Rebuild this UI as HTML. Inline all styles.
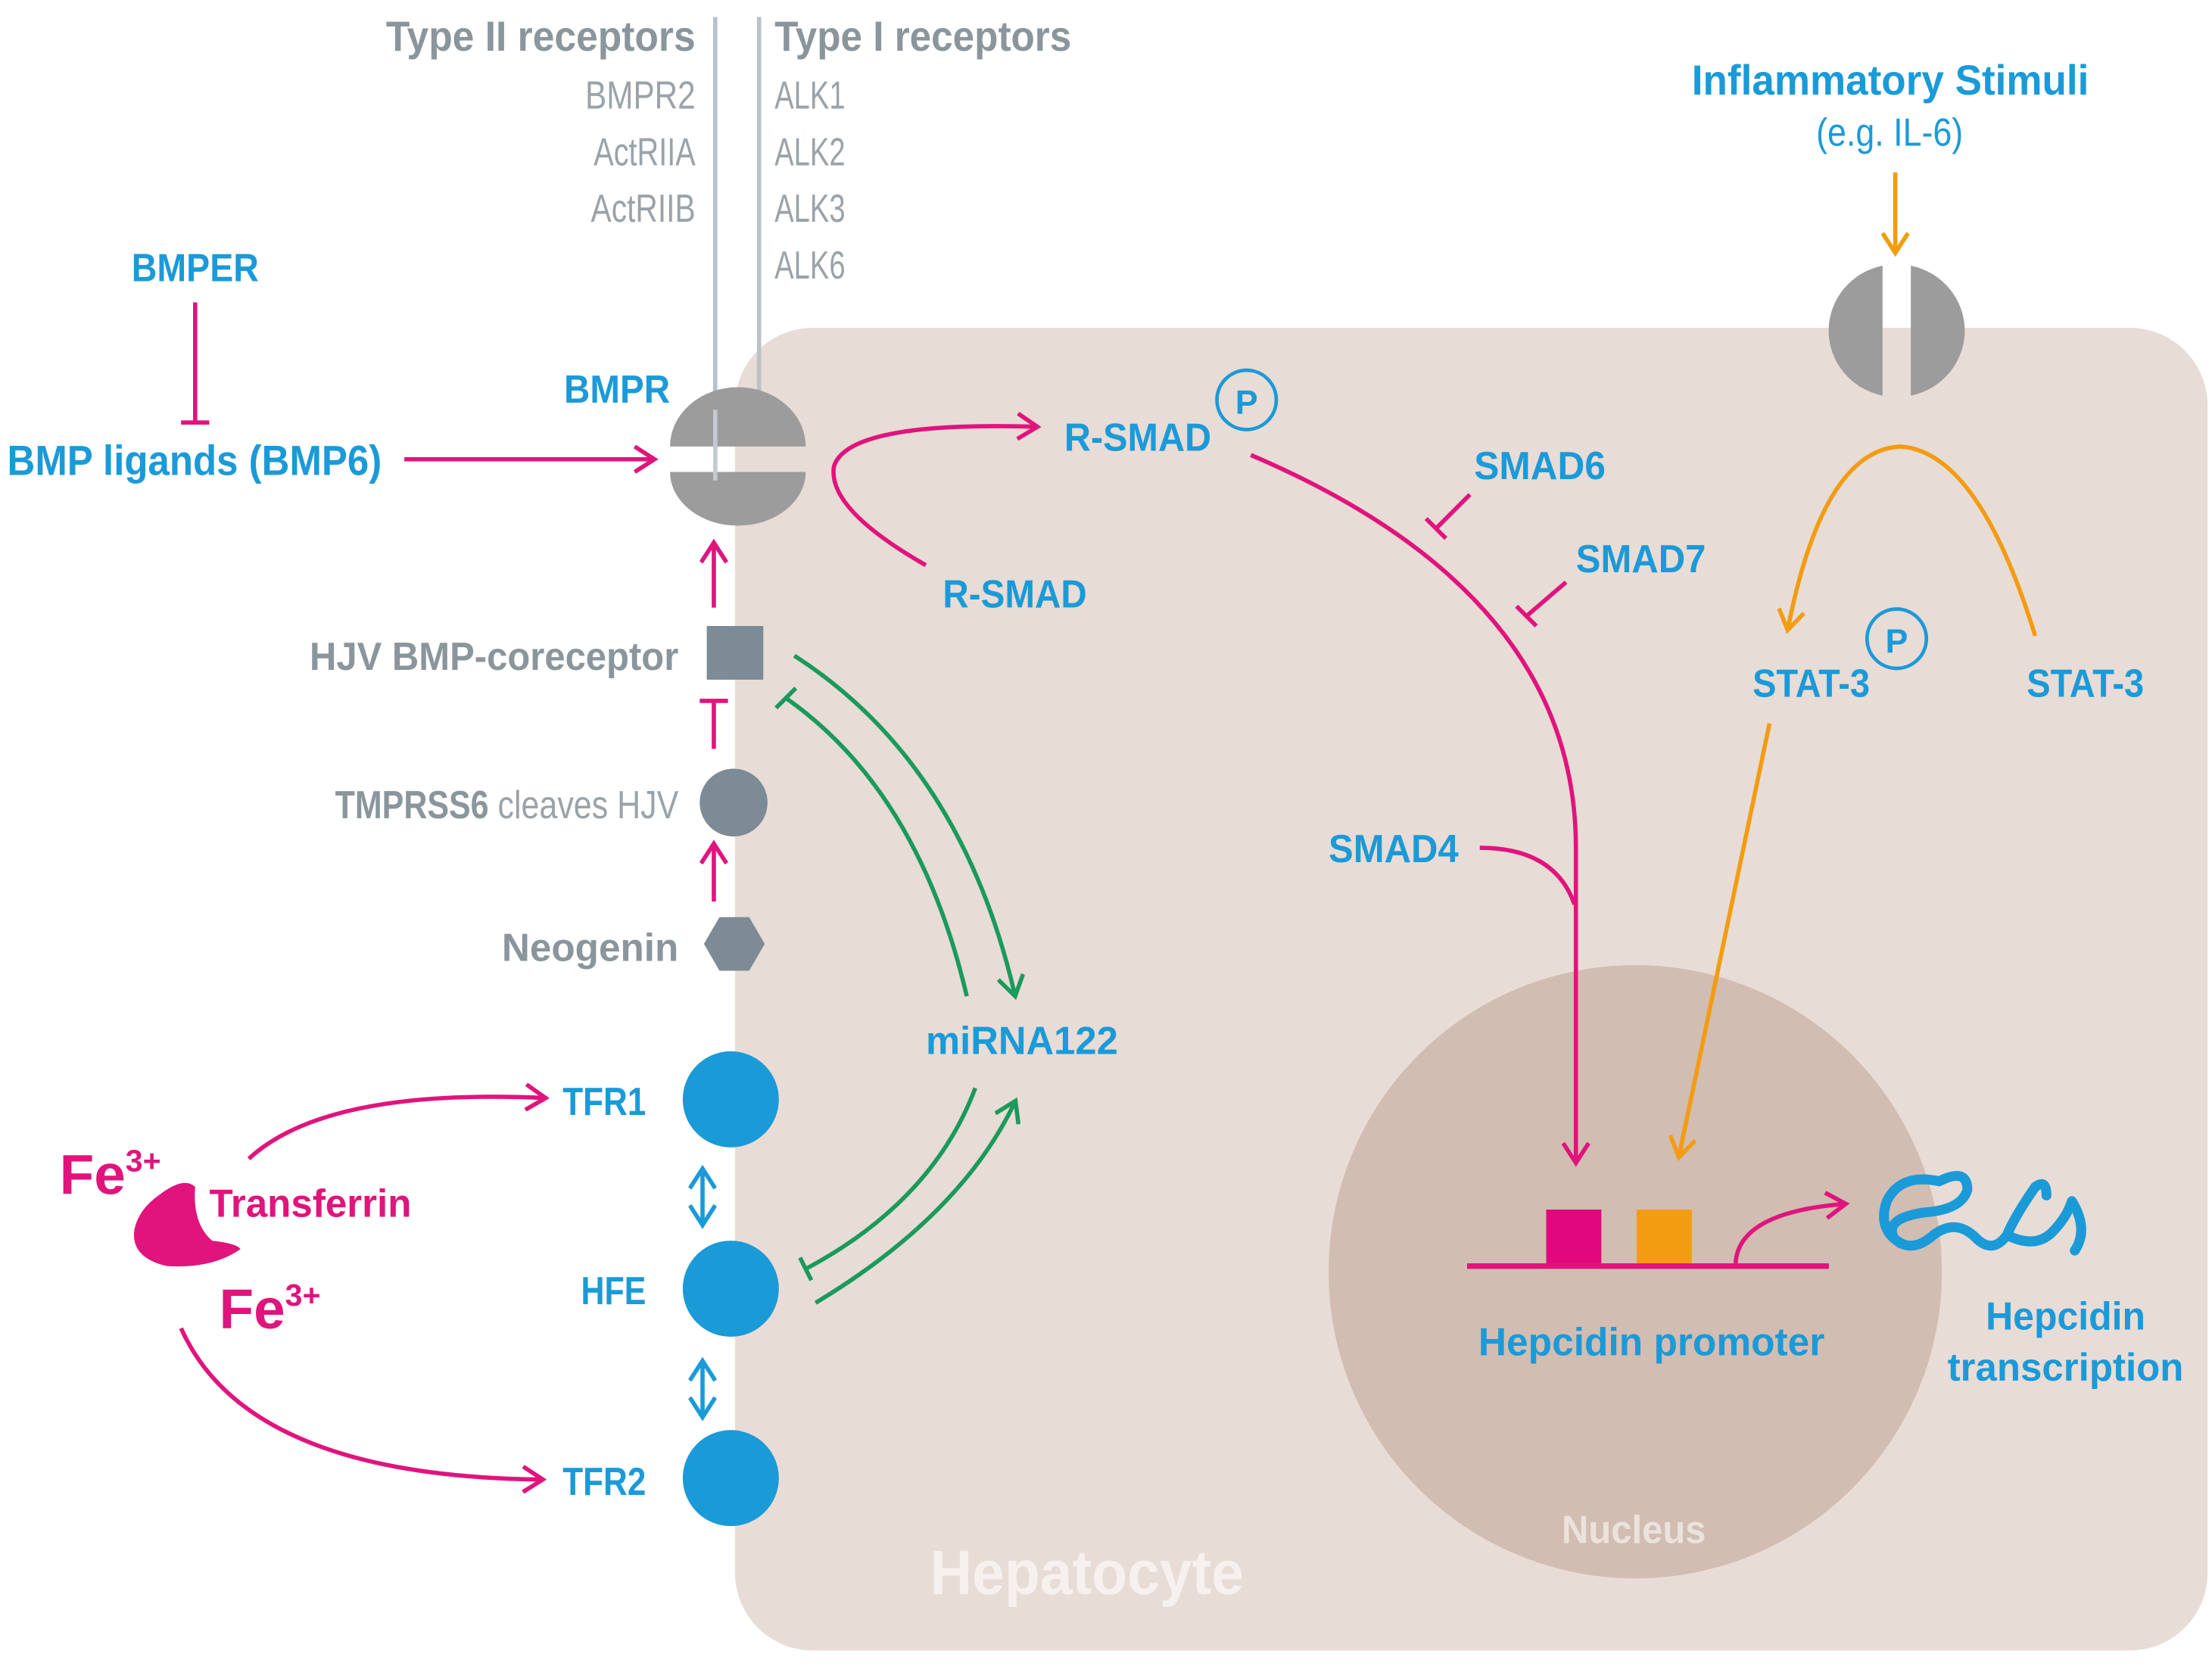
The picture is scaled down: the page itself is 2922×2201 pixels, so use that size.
<!DOCTYPE html>
<html><head><meta charset="utf-8"><style>
html,body{margin:0;padding:0;background:#fff}
svg{display:block}
text{font-family:"Liberation Sans Narrow","Liberation Sans",sans-serif}
.b{font-weight:bold}
.blue{fill:#1b9ad8}
.grey{fill:#8a959c}
</style></head><body>
<svg width="2922" height="2201" viewBox="0 0 1565 1179" xmlns="http://www.w3.org/2000/svg">
<defs>
<marker id="mpb" markerWidth="20" markerHeight="20" refX="16" refY="10" orient="auto" markerUnits="userSpaceOnUse" viewBox="0 0 20 20"><path d="M3,1 L17,10 L3,19" fill="none" stroke="#e0147c" stroke-width="3"/></marker>
<marker id="mg" markerWidth="20" markerHeight="20" refX="16" refY="10" orient="auto" markerUnits="userSpaceOnUse" viewBox="0 0 20 20"><path d="M3,1 L17,10 L3,19" fill="none" stroke="#1a9a5c" stroke-width="3"/></marker>
<marker id="mo" markerWidth="20" markerHeight="20" refX="16" refY="10" orient="auto" markerUnits="userSpaceOnUse" viewBox="0 0 20 20"><path d="M3,1 L17,10 L3,19" fill="none" stroke="#f39c12" stroke-width="3"/></marker>
<marker id="mbl" markerWidth="20" markerHeight="20" refX="16" refY="10" orient="auto-start-reverse" markerUnits="userSpaceOnUse" viewBox="0 0 20 20"><path d="M3,1 L17,10 L3,19" fill="none" stroke="#1b9ad8" stroke-width="3"/></marker>
</defs>
<rect x="520" y="232" width="1042" height="936" rx="55" fill="#e8dcd6"/>
<circle cx="1157" cy="900" r="217" fill="#d2bdb2"/>
<text x="1105" y="1092" textLength="102" lengthAdjust="spacingAndGlyphs" class="b" font-size="28" fill="#ece2dc">Nucleus</text>
<text x="658" y="1128" textLength="222" lengthAdjust="spacingAndGlyphs" class="b" font-size="44" fill="#f6f1ee">Hepatocyte</text>

<line x1="506" y1="12" x2="506" y2="340" stroke="#b9c2c8" stroke-width="3"/>
<line x1="537" y1="12" x2="537" y2="290" stroke="#b9c2c8" stroke-width="3"/>
<text x="273" y="36" textLength="219" lengthAdjust="spacingAndGlyphs" class="b grey" font-size="30">Type II receptors</text>
<text x="548" y="36" textLength="210" lengthAdjust="spacingAndGlyphs" class="b grey" font-size="30">Type I receptors</text>
<g font-size="28" fill="#9aa3a9">
<text x="414" y="77" textLength="78" lengthAdjust="spacingAndGlyphs">BMPR2</text>
<text x="420" y="117" textLength="72" lengthAdjust="spacingAndGlyphs">ActRIIA</text>
<text x="418" y="157" textLength="74" lengthAdjust="spacingAndGlyphs">ActRIIB</text>
<text x="548" y="77" textLength="50" lengthAdjust="spacingAndGlyphs">ALK1</text>
<text x="548" y="117" textLength="50" lengthAdjust="spacingAndGlyphs">ALK2</text>
<text x="548" y="157" textLength="50" lengthAdjust="spacingAndGlyphs">ALK3</text>
<text x="548" y="197" textLength="50" lengthAdjust="spacingAndGlyphs">ALK6</text>
</g>

<path d="M474,316 A48,42 0 0 1 570,316 Z" fill="#9c9c9c"/>
<path d="M474,334 L570,334 A48,38 0 0 1 474,334 Z" fill="#9c9c9c"/>
<line x1="506" y1="290" x2="506" y2="340" stroke="#c4cbd0" stroke-width="3"/>
<text x="399" y="285" textLength="75" lengthAdjust="spacingAndGlyphs" class="b blue" font-size="28">BMPR</text>

<text x="93" y="199" textLength="90" lengthAdjust="spacingAndGlyphs" class="b blue" font-size="28">BMPER</text>
<line x1="138" y1="214" x2="138" y2="299" stroke="#e0147c" stroke-width="3"/>
<line x1="128" y1="299" x2="148" y2="299" stroke="#e0147c" stroke-width="3"/>
<text x="5" y="336" textLength="265" lengthAdjust="spacingAndGlyphs" class="b blue" font-size="30">BMP ligands (BMP6)</text>
<line x1="286" y1="325" x2="462" y2="325" stroke="#e0147c" stroke-width="3" marker-end="url(#mpb)"/>

<line x1="505" y1="430" x2="505" y2="385" stroke="#e0147c" stroke-width="3" marker-end="url(#mpb)"/>
<rect x="500" y="443" width="40" height="38" fill="#7c8b95"/>
<text x="219" y="474" textLength="261" lengthAdjust="spacingAndGlyphs" class="b grey" font-size="28">HJV BMP-coreceptor</text>
<line x1="505" y1="530" x2="505" y2="496" stroke="#e0147c" stroke-width="3"/>
<line x1="495" y1="496" x2="515" y2="496" stroke="#e0147c" stroke-width="3"/>
<circle cx="519" cy="568" r="24" fill="#7c8b95"/>
<text x="237" y="579" textLength="243" lengthAdjust="spacingAndGlyphs" font-size="28" class="grey"><tspan class="b">TMPRSS6</tspan><tspan fill="#9aa3a9"> cleaves HJV</tspan></text>
<line x1="505" y1="638" x2="505" y2="598" stroke="#e0147c" stroke-width="3" marker-end="url(#mpb)"/>
<polygon points="498,668 509,649 530,649 541,668 530,687 509,687" fill="#7c8b95"/>
<text x="355" y="680" textLength="125" lengthAdjust="spacingAndGlyphs" class="b grey" font-size="28">Neogenin</text>

<circle cx="517" cy="778" r="34" fill="#1b9ad8"/>
<circle cx="517" cy="912" r="34" fill="#1b9ad8"/>
<circle cx="517" cy="1046" r="34" fill="#1b9ad8"/>
<text x="398" y="789" textLength="59" lengthAdjust="spacingAndGlyphs" class="b blue" font-size="28">TFR1</text>
<text x="411" y="923" textLength="46" lengthAdjust="spacingAndGlyphs" class="b blue" font-size="28">HFE</text>
<text x="398" y="1058" textLength="59" lengthAdjust="spacingAndGlyphs" class="b blue" font-size="28">TFR2</text>
<line x1="497" y1="828" x2="497" y2="866" stroke="#1b9ad8" stroke-width="3" marker-start="url(#mbl)" marker-end="url(#mbl)"/>
<line x1="497" y1="964" x2="497" y2="1002" stroke="#1b9ad8" stroke-width="3" marker-start="url(#mbl)" marker-end="url(#mbl)"/>

<text x="42" y="845" class="b" font-size="40" fill="#e0147c">Fe<tspan font-size="22" dy="-16">3+</tspan></text>
<text x="155" y="940" class="b" font-size="40" fill="#e0147c">Fe<tspan font-size="22" dy="-16">3+</tspan></text>
<text x="148" y="861" textLength="143" lengthAdjust="spacingAndGlyphs" class="b" font-size="28" fill="#e0147c">Transferrin</text>
<path d="M112,846 Q130,832 138,840 Q136,866 150,878 Q168,880 170,884 Q150,898 118,896 Q92,890 95,870 Q98,856 112,846 Z" fill="#e0147c"/>
<path d="M176,820 Q230,770 385,777" fill="none" stroke="#e0147c" stroke-width="3" marker-end="url(#mpb)"/>
<path d="M128,940 Q175,1045 383,1047" fill="none" stroke="#e0147c" stroke-width="3" marker-end="url(#mpb)"/>

<text x="655" y="746" textLength="136" lengthAdjust="spacingAndGlyphs" class="b blue" font-size="28">miRNA122</text>
<path d="M562,464 Q680,540 718,704" fill="none" stroke="#1a9a5c" stroke-width="3" marker-end="url(#mg)"/>
<path d="M684,705 Q650,560 556,494" fill="none" stroke="#1a9a5c" stroke-width="3"/>
<line x1="549" y1="501" x2="563" y2="487" stroke="#1a9a5c" stroke-width="3"/>
<path d="M577,922 Q680,860 718,780" fill="none" stroke="#1a9a5c" stroke-width="3" marker-end="url(#mg)"/>
<path d="M690,770 Q660,850 570,898" fill="none" stroke="#1a9a5c" stroke-width="3"/>
<line x1="566" y1="890" x2="574" y2="906" stroke="#1a9a5c" stroke-width="3"/>

<text x="667" y="430" textLength="102" lengthAdjust="spacingAndGlyphs" class="b blue" font-size="28">R-SMAD</text>
<path d="M655,400 Q585,360 590,330 Q600,298 733,302" fill="none" stroke="#e0147c" stroke-width="3" marker-end="url(#mpb)"/>
<text x="753" y="319" textLength="104" lengthAdjust="spacingAndGlyphs" class="b blue" font-size="28">R-SMAD</text>
<circle cx="882" cy="283" r="21" fill="none" stroke="#1b9ad8" stroke-width="2.5"/>
<text x="882" y="293" text-anchor="middle" class="b blue" font-size="24">P</text>
<path d="M885,322 Q1115,420 1115,600 L1115,822" fill="none" stroke="#e0147c" stroke-width="3" marker-end="url(#mpb)"/>
<text x="1043" y="339" textLength="93" lengthAdjust="spacingAndGlyphs" class="b blue" font-size="28">SMAD6</text>
<line x1="1040" y1="350" x2="1016" y2="374" stroke="#e0147c" stroke-width="3"/>
<line x1="1009" y1="367" x2="1023" y2="381" stroke="#e0147c" stroke-width="3"/>
<text x="1115" y="405" textLength="92" lengthAdjust="spacingAndGlyphs" class="b blue" font-size="28">SMAD7</text>
<line x1="1108" y1="412" x2="1080" y2="436" stroke="#e0147c" stroke-width="3"/>
<line x1="1073" y1="429" x2="1087" y2="443" stroke="#e0147c" stroke-width="3"/>
<text x="940" y="610" textLength="92" lengthAdjust="spacingAndGlyphs" class="b blue" font-size="28">SMAD4</text>
<path d="M1047,600 Q1100,600 1114,640" fill="none" stroke="#e0147c" stroke-width="3"/>

<rect x="1094" y="856" width="39" height="40" fill="#e0087c"/>
<rect x="1158" y="856" width="39" height="40" fill="#f39c12"/>
<line x1="1038" y1="896" x2="1294" y2="896" stroke="#e0147c" stroke-width="4"/>
<path d="M1228,894 Q1230,858 1305,852" fill="none" stroke="#e0147c" stroke-width="3" marker-end="url(#mpb)"/>
<text x="1046" y="959" textLength="245" lengthAdjust="spacingAndGlyphs" class="b blue" font-size="28">Hepcidin promoter</text>
<text x="1405" y="941" textLength="113" lengthAdjust="spacingAndGlyphs" class="b blue" font-size="28">Hepcidin</text>
<text x="1378" y="977" textLength="167" lengthAdjust="spacingAndGlyphs" class="b blue" font-size="28">transcription</text>
<path d="M1372,836 Q1392,826 1392,842 Q1388,856 1362,858 Q1333,862 1340,876 Q1352,888 1368,874 Q1384,862 1398,876 Q1410,888 1420,874 Q1426,860 1440,840 Q1448,834 1448,846 M1372,836 Q1345,830 1335,850 Q1328,870 1345,880 M1420,874 Q1440,884 1452,872 Q1462,862 1466,850 Q1478,870 1468,885" fill="none" stroke="#1b9ad8" stroke-width="7" stroke-linecap="round" stroke-linejoin="round"/>

<text x="1197" y="67" textLength="281" lengthAdjust="spacingAndGlyphs" class="b blue" font-size="30">Inflammatory Stimuli</text>
<text x="1285" y="103" textLength="104" lengthAdjust="spacingAndGlyphs" class="blue" font-size="28">(e.g. IL-6)</text>
<line x1="1341" y1="122" x2="1341" y2="178" stroke="#f39c12" stroke-width="3" marker-end="url(#mo)"/>
<path d="M1332,188 A48,47 0 0 0 1332,280 Z" fill="#9c9c9c"/>
<path d="M1352,188 A48,47 0 0 1 1352,280 Z" fill="#9c9c9c"/>
<path d="M1440,450 Q1400,320 1345,316 Q1290,318 1265,445" fill="none" stroke="#f39c12" stroke-width="3" marker-end="url(#mo)"/>
<text x="1240" y="493" textLength="83" lengthAdjust="spacingAndGlyphs" class="b blue" font-size="28">STAT-3</text>
<circle cx="1342" cy="452" r="21" fill="none" stroke="#1b9ad8" stroke-width="2.5"/>
<text x="1342" y="462" text-anchor="middle" class="b blue" font-size="24">P</text>
<text x="1434" y="493" textLength="83" lengthAdjust="spacingAndGlyphs" class="b blue" font-size="28">STAT-3</text>
<line x1="1252" y1="512" x2="1188" y2="818" stroke="#f39c12" stroke-width="3" marker-end="url(#mo)"/>
</svg>
</body></html>
